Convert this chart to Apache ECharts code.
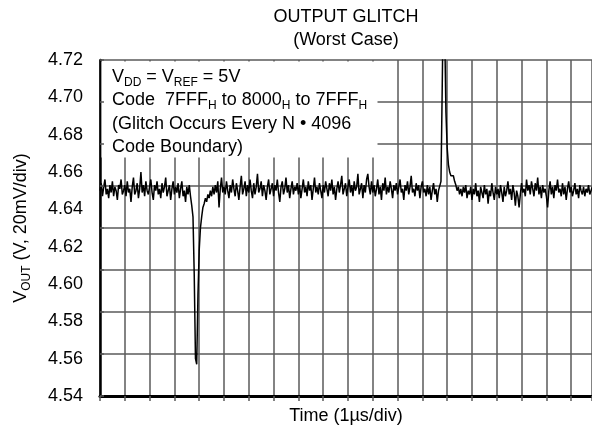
<!DOCTYPE html>
<html>
<head>
<meta charset="utf-8">
<script src="https://cdn.jsdelivr.net/npm/echarts@6/dist/echarts.min.js"></script>
<style>
  html, body { margin: 0; padding: 0; background: #fff; }
  #chart { width: 592px; height: 432px; }
</style>
</head>
<body>
<div id="chart"></div>
<script>
// 示波器采样: 每点 0.05us
const sampleStep = 0.05;
const timeMax = 19.84;

// 纵轴刻度
const yTicks = ['4.54', '4.56', '4.58', '4.60', '4.62', '4.64', '4.66', '4.68', '4.70', '4.72'];

// VOUT 波形 (V)
const vout = [
  4.650,4.654,4.647,4.652,4.656,4.648,4.651,4.646,4.653,4.649,4.655,4.647,4.652,4.650,4.645,4.653,4.651,4.656,4.648,4.650,
  4.653,4.647,4.655,4.649,4.651,4.644,4.652,4.657,4.648,4.650,4.654,4.646,4.651,4.660,4.649,4.653,4.647,4.655,4.650,4.648,
  4.652,4.656,4.649,4.645,4.653,4.650,4.655,4.648,4.651,4.646,4.654,4.649,4.652,4.657,4.647,4.650,4.653,4.645,4.651,4.655,
  4.648,4.652,4.649,4.654,4.646,4.651,4.655,4.647,4.650,4.644,4.652,4.648,4.653,4.647,4.642,4.636,4.605,4.560,4.557,4.594,
  4.618,4.630,4.636,4.641,4.643,4.646,4.644,4.648,4.646,4.650,4.647,4.652,4.648,4.653,4.649,4.655,4.641,4.651,4.657,4.649,
  4.652,4.648,4.655,4.650,4.646,4.653,4.649,4.656,4.651,4.647,4.654,4.650,4.645,4.652,4.658,4.648,4.651,4.655,4.647,4.653,
  4.649,4.656,4.650,4.646,4.654,4.648,4.652,4.659,4.649,4.651,4.655,4.647,4.653,4.650,4.645,4.652,4.656,4.648,4.651,4.654,
  4.647,4.653,4.650,4.656,4.649,4.644,4.652,4.655,4.648,4.651,4.657,4.649,4.653,4.646,4.651,4.655,4.648,4.652,4.650,4.654,
  4.648,4.653,4.646,4.651,4.656,4.649,4.652,4.647,4.655,4.650,4.653,4.645,4.651,4.657,4.649,4.652,4.648,4.654,4.650,4.646,
  4.653,4.649,4.655,4.651,4.647,4.654,4.650,4.656,4.648,4.652,4.645,4.651,4.655,4.649,4.653,4.658,4.648,4.651,4.654,4.647,
  4.652,4.656,4.649,4.653,4.647,4.655,4.650,4.652,4.659,4.648,4.651,4.654,4.646,4.653,4.649,4.656,4.659,4.652,4.648,4.655,
  4.649,4.653,4.647,4.651,4.656,4.648,4.652,4.645,4.654,4.650,4.657,4.648,4.652,4.649,4.655,4.651,4.646,4.653,4.650,4.654,
  4.648,4.652,4.656,4.649,4.651,4.645,4.653,4.650,4.655,4.648,4.652,4.658,4.649,4.651,4.647,4.654,4.650,4.653,4.646,4.652,
  4.655,4.649,4.651,4.647,4.653,4.648,4.652,4.645,4.650,4.654,4.648,4.651,4.644,4.650,4.649,4.655,4.705,4.760,4.735,4.692,
  4.673,4.664,4.660,4.658,4.657,4.658,4.655,4.653,4.650,4.652,4.648,4.651,4.647,4.652,4.649,4.653,4.646,4.650,4.648,4.652,
  4.645,4.651,4.648,4.654,4.647,4.650,4.644,4.652,4.649,4.646,4.653,4.648,4.651,4.643,4.650,4.647,4.654,4.649,4.645,4.652,
  4.648,4.651,4.646,4.653,4.649,4.644,4.652,4.647,4.650,4.655,4.648,4.651,4.645,4.653,4.649,4.642,4.650,4.647,4.641,4.648,
  4.654,4.649,4.651,4.647,4.656,4.650,4.653,4.648,4.655,4.651,4.647,4.654,4.650,4.657,4.648,4.652,4.646,4.653,4.649,4.651,
  4.647,4.641,4.650,4.655,4.648,4.652,4.646,4.653,4.650,4.656,4.649,4.651,4.647,4.654,4.648,4.652,4.645,4.651,4.655,4.649,
  4.652,4.647,4.650,4.654,4.648,4.651,4.646,4.653,4.650,4.648,4.652,4.647,4.651,4.649,4.653,4.648,4.650,4.652,4.649,4.651
];

const traceData = vout.map((v, i) => [i * sampleStep, v]);

const font = 'Liberation Sans, Arial, Helvetica, sans-serif';
const gridColor = '#5a5a5a';

// 文字框里的下标
const boxRich = {
  n: { fontSize: 18, fontFamily: font, color: '#000', lineHeight: 24 },
  s: { fontSize: 12, fontFamily: font, color: '#000', lineHeight: 13, padding: [11, 0, 0, 0] }
};
const boxLines = [
  '{n|V}{s|DD}{n| = V}{s|REF}{n| = 5V}',
  '{n|Code  7FFF}{s|H}{n| to 8000}{s|H}{n| to 7FFF}{s|H}',
  '{n|(Glitch Occurs Every N \u2022 4096}',
  '{n|Code Boundary)}'
];
const boxLineY = [77, 100.5, 124, 147.5];

const chart = echarts.init(document.getElementById('chart'));
chart.setOption({
  animation: false,
  title: {
    text: 'OUTPUT GLITCH\n(Worst Case)',
    left: 346,
    top: 5,
    padding: 0,
    textAlign: 'center',
    textStyle: { fontFamily: font, fontSize: 18, fontWeight: 'normal', color: '#000', lineHeight: 23.5 }
  },
  grid: { left: 100, right: 0, top: 60, bottom: 36 },
  xAxis: [
    {
      type: 'value',
      min: 0,
      max: timeMax,
      interval: 1,
      name: 'Time (1\u00b5s/div)',
      nameLocation: 'middle',
      nameGap: 11,
      nameTextStyle: { fontFamily: font, fontSize: 18, color: '#000' },
      axisLine: { show: true, lineStyle: { color: '#000', width: 3 } },
      axisTick: { show: false },
      minorTick: { show: false },
      axisLabel: { show: false },
      splitLine: { show: true, lineStyle: { color: gridColor, width: 1.5 } }
    },
    {
      // 顶边框 + 向内的小刻度
      type: 'value',
      position: 'top',
      min: 0,
      max: timeMax,
      interval: 1,
      z: 20,
      axisLine: { show: true, lineStyle: { color: '#000', width: 2.5 } },
      axisTick: { show: true, inside: true, length: 5, lineStyle: { color: gridColor, width: 1.5 } },
      axisLabel: { show: false },
      splitLine: { show: false }
    }
  ],
  yAxis: [
    {
      type: 'value',
      min: 4.54,
      max: 4.72,
      interval: 0.02,
      name: '{v|V}{s|OUT}{v| (V, 20mV/div)}',
      nameLocation: 'middle',
      nameRotate: 90,
      nameGap: 67,
      nameTextStyle: {
        rich: {
          v: { fontSize: 18, fontFamily: font, color: '#000', lineHeight: 24 },
          s: { fontSize: 12, fontFamily: font, color: '#000', lineHeight: 13, padding: [11, 0, 0, 0] }
        }
      },
      axisLine: { show: true, lineStyle: { color: '#000', width: 2.5 } },
      axisTick: { show: false },
      axisLabel: {
        margin: 17,
        fontFamily: font,
        fontSize: 18,
        color: '#000',
        formatter: (v) => v.toFixed(2)
      },
      splitLine: { show: false }
    },
    {
      // 示波器网格 8 格
      type: 'value',
      position: 'left',
      min: 0,
      max: 8,
      interval: 1,
      axisLine: { show: false },
      axisTick: { show: false },
      axisLabel: { show: false },
      splitLine: { show: true, lineStyle: { color: gridColor, width: 1.5 } }
    },
    {
      type: 'value',
      position: 'left',
      min: 0,
      max: 8,
      interval: 1,
      z: 20,
      axisLine: { show: false },
      axisTick: { show: true, inside: true, length: 4, lineStyle: { color: gridColor, width: 1.5 } },
      axisLabel: { show: false },
      splitLine: { show: false }
    }
  ],
  graphic: [
    {
      type: 'rect',
      z: 10,
      shape: { x: 101.5, y: 61.5, width: 276, height: 96 },
      style: { fill: '#fff' }
    }
  ].concat(boxLines.map((t, i) => ({
    type: 'text',
    z: 11,
    x: 112,
    y: boxLineY[i],
    style: {
      text: t,
      rich: boxRich,
      textAlign: 'left',
      textVerticalAlign: 'middle',
      verticalAlign: 'middle'
    }
  }))),
  series: [
    {
      type: 'line',
      xAxisIndex: 0,
      yAxisIndex: 0,
      data: traceData,
      showSymbol: false,
      symbol: 'none',
      clip: true,
      lineStyle: { color: '#000', width: 1.5 },
      z: 5
    }
  ]
});
</script>
</body>
</html>
